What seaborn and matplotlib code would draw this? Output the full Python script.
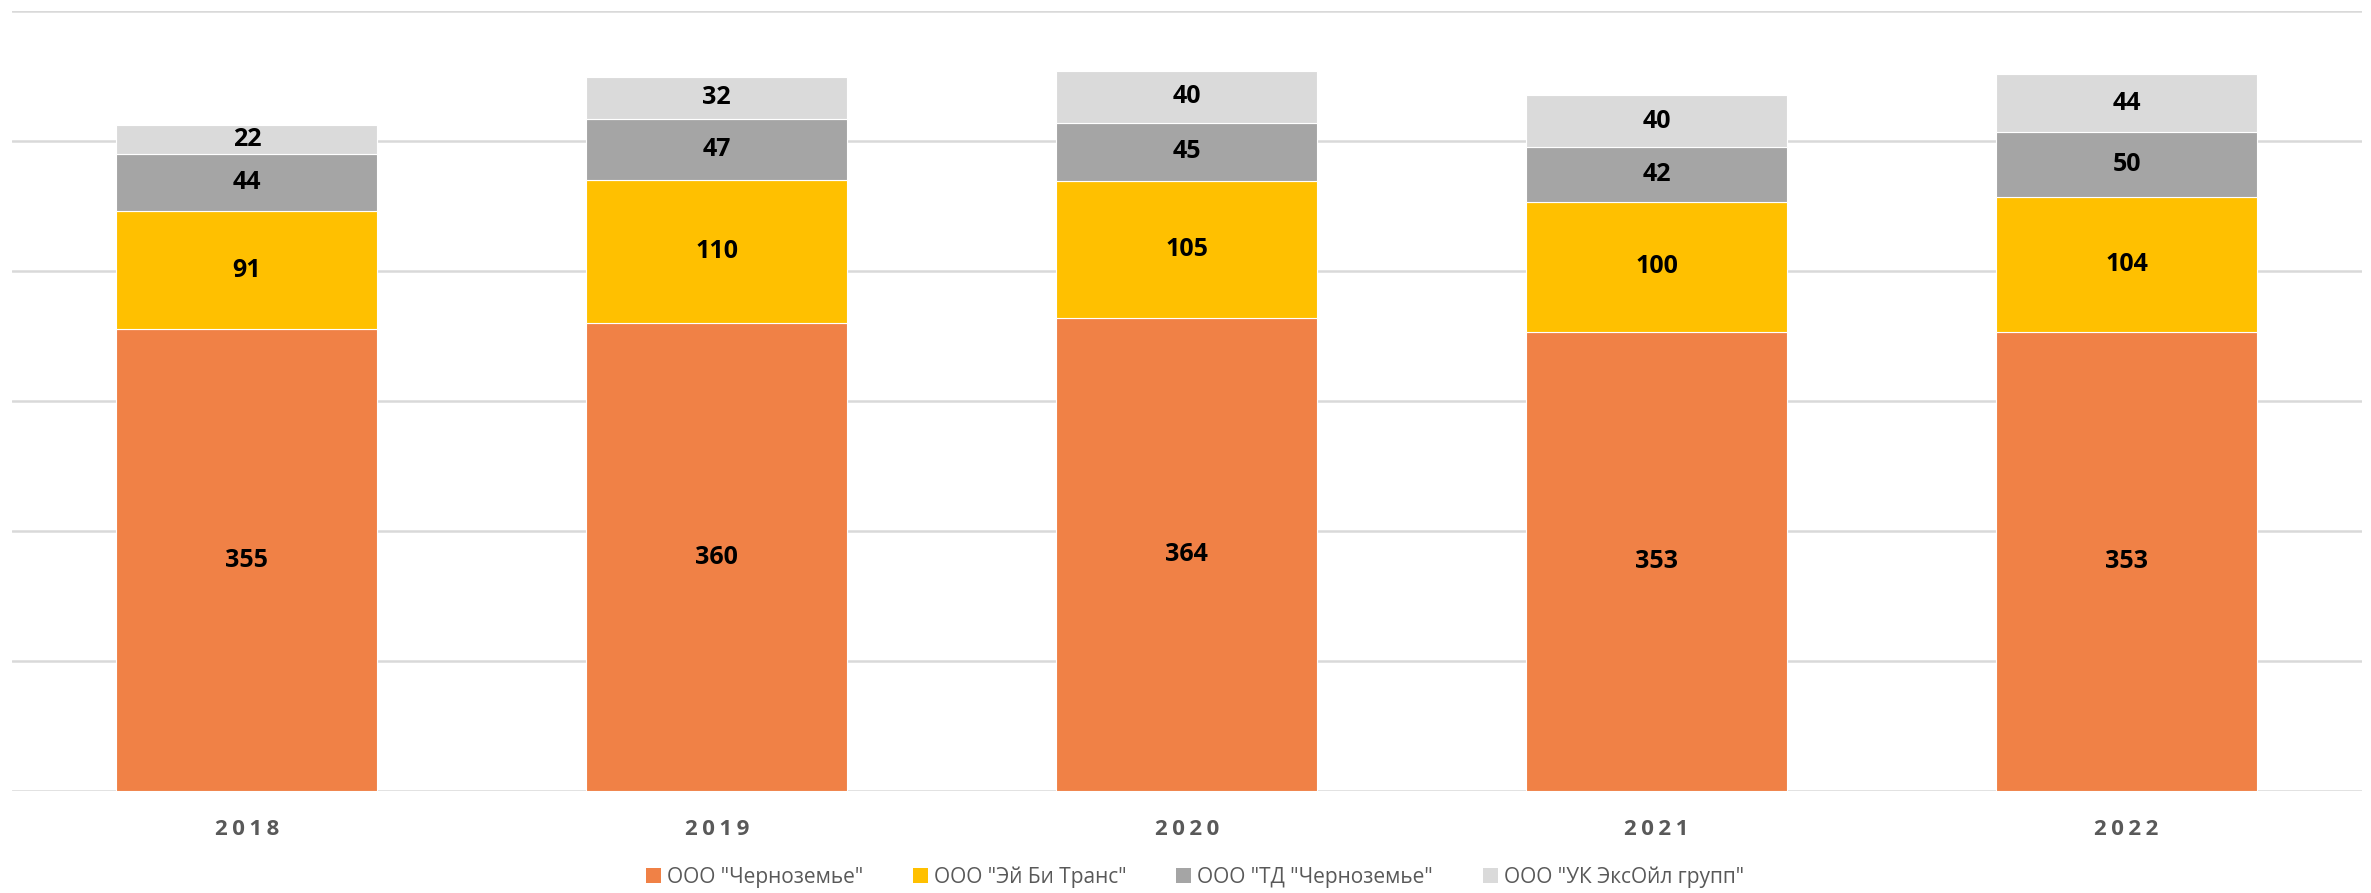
import matplotlib
matplotlib.use("Agg")
import matplotlib.pyplot as plt
import seaborn as sns
from matplotlib.patches import Patch

years = ["2018", "2019", "2020", "2021", "2022"]
series_names = [
    'ООО "Черноземье"',
    'ООО "Эй Би Транс"',
    'ООО "ТД "Черноземье"',
    'ООО "УК ЭксОйл групп"',
]
chernozemye = [355, 360, 364, 353, 353]
ab_trans = [91, 110, 105, 100, 104]
td_chernozemye = [44, 47, 45, 42, 50]
uk_exoil = [22, 32, 40, 40, 44]
colors = ["#F08146", "#FFC000", "#A5A5A5", "#DADADA"]

sns.set_theme(style="white")
plt.rcParams["font.family"] = ["Open Sans", "DejaVu Sans"]

fig = plt.figure(figsize=(23.71, 8.93), dpi=100)
ax = fig.add_axes([0.005, 0.114, 0.991, 0.874])

bottom = [0] * len(years)
for name, vals, col in zip(series_names, [chernozemye, ab_trans, td_chernozemye, uk_exoil], colors):
    sns.barplot(x=years, y=vals, bottom=bottom, color=col, width=0.556,
                edgecolor="white", linewidth=0.8, saturation=1, ax=ax, zorder=3)
    ax.bar_label(ax.containers[-1], label_type="center", fontsize=18,
                 fontweight="bold", color="black")
    bottom = [b + v for b, v in zip(bottom, vals)]

ax.set_ylim(0, 600)
ax.set_xlim(-0.5, len(years) - 0.5)
ax.set_yticks(range(0, 601, 100))
ax.yaxis.grid(True, color="#D9D9D9", linewidth=1.8, zorder=0)
ax.set_axisbelow(True)
ax.tick_params(axis="y", left=False, labelleft=False)
ax.tick_params(axis="x", bottom=False, pad=14)
ax.set_xticks(range(len(years)))
ax.set_xticklabels(["\u2009".join(y) for y in years], fontsize=16,
                   fontweight="bold", color="#595959")
ax.set_xlabel("")
ax.set_ylabel("")
for s in ax.spines.values():
    s.set_visible(False)

handles = [Patch(facecolor=c, edgecolor="none") for c in colors]
fig.legend(handles, series_names, loc="center", bbox_to_anchor=(0.504, 0.018),
           ncol=4, frameon=False, fontsize=15, labelcolor="#595959",
           handlelength=0.7, handleheight=0.7, handletextpad=0.3, columnspacing=2.4)

fig.savefig("out.png", dpi=100)
